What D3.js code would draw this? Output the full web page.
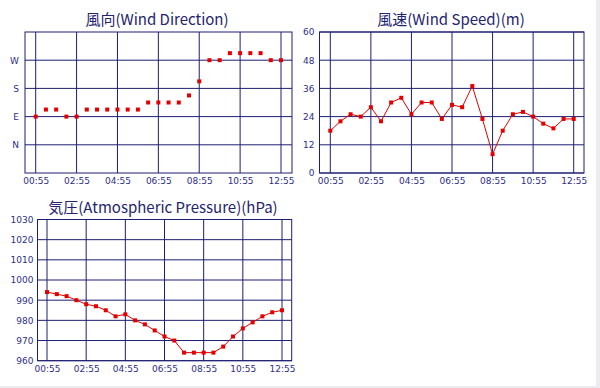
<!DOCTYPE html>
<html>
<head>
<meta charset="utf-8">
<script src="https://cdn.jsdelivr.net/npm/d3@7.9.0/dist/d3.min.js"></script>
<style>
  body { margin: 0; background: #fff; }
  svg { display: block; }
  .tick text { fill: #2e2e84; font-family: "DejaVu Sans", Verdana, sans-serif; font-size: 9px; }
  .title { fill: #24246e; font-family: "Noto Sans CJK JP", sans-serif; font-size: 15px; text-anchor: middle; }
</style>
</head>
<body>
<svg width="600" height="388"></svg>
<script>
// observation times, every 30 minutes
const times = ['00:55','01:25','01:55','02:25','02:55','03:25','03:55','04:25','04:55','05:25',
  '05:55','06:25','06:55','07:25','07:55','08:25','08:55','09:25','09:55','10:25',
  '10:55','11:25','11:55','12:25','12:55'];
const timeTicks = ['00:55','02:55','04:55','06:55','08:55','10:55','12:55'];

// wind direction in degrees (N=0, E=90, S=180, W=270)
const windDir = [90,112.5,112.5,90,90,112.5,112.5,112.5,112.5,112.5,
  112.5,135,135,135,135,157.5,202.5,270,270,292.5,
  292.5,292.5,292.5,270,270];
const dirTicks = [0, 90, 180, 270];
const dirLabels = ['N', 'E', 'S', 'W'];

// wind speed (m)
const windSpeed = [18,22,25,24,28,22,30,32,25,30,30,23,29,28,37,23,8,18,25,26,24,21,19,23,23];
const speedTicks = [0, 12, 24, 36, 48, 60];

// atmospheric pressure (hPa)
const pressure = [994,993,992,990,988,987,985,982,983,980,978,975,972,970,964,964,964,964,967,972,976,979,982,984,985];
const pressureTicks = [960, 970, 980, 990, 1000, 1010, 1020, 1030];

const svg = d3.select('svg');
const navy = '#1e1e74';
const red = '#e40000';

function panel(opt) {
  const g = svg.append('g');
  const x = d3.scalePoint().domain(times).range(opt.xRange);
  const y = d3.scaleLinear().domain(opt.yDomain).range([opt.bottom, opt.top]);

  // grid
  g.append('g').selectAll('line.h').data(opt.yTicks).join('line')
    .attr('x1', opt.left).attr('x2', opt.right)
    .attr('y1', d => y(d)).attr('y2', d => y(d))
    .attr('stroke', navy).attr('stroke-width', 1);
  g.append('g').selectAll('line.v').data(timeTicks).join('line')
    .attr('x1', d => x(d)).attr('x2', d => x(d))
    .attr('y1', opt.top).attr('y2', opt.bottom)
    .attr('stroke', navy).attr('stroke-width', 1);
  g.append('rect')
    .attr('x', opt.left).attr('y', opt.top)
    .attr('width', opt.right - opt.left).attr('height', opt.bottom - opt.top)
    .attr('fill', 'none').attr('stroke', navy).attr('stroke-width', 1);

  // axes (labels only)
  const ax = g.append('g').attr('transform', `translate(0,${opt.bottom})`)
    .call(d3.axisBottom(x).tickValues(timeTicks).tickSize(0).tickPadding(5));
  ax.select('.domain').remove();
  const ay = g.append('g').attr('transform', `translate(${opt.left},0)`)
    .call(d3.axisLeft(y).tickValues(opt.yTicks).tickSize(0).tickPadding(opt.yPad)
      .tickFormat(opt.yFormat || d3.format('d')));
  ay.select('.domain').remove();

  // series
  if (opt.line) {
    g.append('path').datum(opt.values)
      .attr('fill', 'none').attr('stroke', red).attr('stroke-width', 1)
      .attr('d', d3.line().x((d, i) => x(times[i])).y(d => y(d)));
  }
  g.selectAll('rect.pt').data(opt.values).join('rect')
    .attr('class', 'pt')
    .attr('x', (d, i) => x(times[i]) - 2).attr('y', d => y(d) - 2)
    .attr('width', 4).attr('height', 4).attr('fill', red);

  svg.append('text').attr('class', 'title')
    .attr('x', opt.titleX).attr('y', opt.titleY).text(opt.title);
}

panel({
  title: '風向(Wind Direction)', titleX: 157, titleY: 25,
  left: 25, right: 292, top: 32, bottom: 173, xRange: [35.7, 281],
  yDomain: [-90, 360], yTicks: dirTicks, yPad: 6,
  yFormat: d => dirLabels[dirTicks.indexOf(d)],
  values: windDir, line: false
});

panel({
  title: '風速(Wind Speed)(m)', titleX: 451, titleY: 25,
  left: 319.5, right: 584, top: 32, bottom: 173, xRange: [330.3, 573.7],
  yDomain: [0, 60], yTicks: speedTicks, yPad: 5,
  values: windSpeed, line: true
});

panel({
  title: '気圧(Atmospheric Pressure)(hPa)', titleX: 163, titleY: 213,
  left: 37.5, right: 291.7, top: 219.5, bottom: 360.7, xRange: [47, 282],
  yDomain: [960, 1030], yTicks: pressureTicks, yPad: 4,
  values: pressure, line: true
});

// light frame strips at the window edges
svg.append('rect').attr('x', 596).attr('y', 0).attr('width', 4).attr('height', 388).attr('fill', '#ececf0');
svg.append('rect').attr('x', 0).attr('y', 386).attr('width', 600).attr('height', 2).attr('fill', '#ececf0');
</script>
</body>
</html>
